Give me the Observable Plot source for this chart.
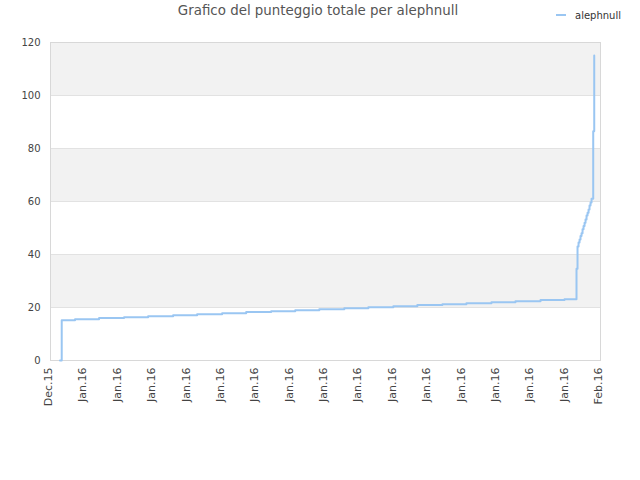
<!DOCTYPE html>
<html><head><meta charset="utf-8">
<script src="https://cdn.jsdelivr.net/npm/d3@7"></script>
<script src="https://cdn.jsdelivr.net/npm/@observablehq/plot@0.6"></script>
<style>
body{margin:0;background:#fff;font-family:"DejaVu Sans",sans-serif;}
#wrap{width:640px;}
#head{position:relative;height:30px;}
#title{position:absolute;left:0;width:636px;top:3px;text-align:center;font-size:13.4px;color:#555;white-space:nowrap;}
#legend{position:absolute;left:556px;top:10px;font-size:10px;color:#333;white-space:nowrap;}
#sw{display:inline-block;width:10px;height:2px;background:#9ac6f2;vertical-align:middle;margin-right:9px;position:relative;top:-1px;}
</style></head>
<body>
<div id="wrap">
 <div id="head">
  <div id="title">Grafico del punteggio totale per alephnull</div>
  <div id="legend"><span id="sw"></span>alephnull</div>
 </div>
 <div id="chart"></div>
</div>
<script>
const times = [
 "2015-12-31T13:15Z","2015-12-31T15:40Z","2016-01-01T10:15Z","2016-01-02T19:50Z",
 "2016-01-04T06:45Z","2016-01-05T16:20Z","2016-01-07T03:15Z","2016-01-08T12:45Z",
 "2016-01-09T23:40Z","2016-01-11T09:15Z","2016-01-12T20:10Z","2016-01-14T05:45Z",
 "2016-01-15T15:20Z","2016-01-17T02:15Z","2016-01-18T11:50Z","2016-01-19T22:45Z",
 "2016-01-21T08:15Z","2016-01-22T19:15Z","2016-01-24T04:45Z","2016-01-25T15:45Z",
 "2016-01-27T01:15Z","2016-01-28T12:15Z","2016-01-29T21:45Z","2016-01-30T14:30Z",
 "2016-01-30T15:55Z","2016-01-30T17:20Z","2016-01-30T18:45Z","2016-01-30T20:05Z",
 "2016-01-30T21:30Z","2016-01-30T22:55Z","2016-01-31T00:20Z","2016-01-31T01:45Z",
 "2016-01-31T03:05Z","2016-01-31T04:30Z","2016-01-31T05:55Z","2016-01-31T07:20Z",
 "2016-01-31T08:40Z","2016-01-31T10:05Z","2016-01-31T11:30Z","2016-01-31T13:50Z",
 "2016-01-31T15:15Z"
];
const scores = [
 0, 15.2, 15.6, 16.0,
 16.35, 16.7, 17.1, 17.5,
 17.85, 18.3, 18.6, 19.0,
 19.35, 19.75, 20.1, 20.5,
 20.9, 21.25, 21.65, 22.0,
 22.4, 22.8, 23.15, 34.6,
 43.0, 44.5, 45.7, 47.0,
 48.0, 49.5, 50.8, 52.0,
 53.2, 54.7, 55.8, 57.0,
 58.5, 59.6, 61.0, 86.5,
 115.1
];
const xTicks = [
 "2015-12-31","2016-01-02","2016-01-04","2016-01-06","2016-01-08","2016-01-10",
 "2016-01-12","2016-01-14","2016-01-16","2016-01-18","2016-01-20","2016-01-22",
 "2016-01-24","2016-01-26","2016-01-28","2016-01-30","2016-02-01"
];
const yTicks = [0, 20, 40, 60, 80, 100, 120];
const bandStart = [20, 60, 100];
const bandEnd = [40, 80, 120];

const data = times.map((t, i) => ({date: new Date(t), score: scores[i]}));
const bands = bandStart.map((s, i) => ({y1: s, y2: bandEnd[i]}));
const tickDates = xTicks.map(d => new Date(d));

const chart = Plot.plot({
 width: 640, height: 450,
 marginTop: 12, marginBottom: 120, marginLeft: 50, marginRight: 40,
 style: {fontFamily: "'DejaVu Sans', sans-serif", color: "#444", background: "#fff"},
 x: {type: "utc", domain: [tickDates[0], tickDates[tickDates.length - 1]]},
 y: {domain: [0, 120]},
 marks: [
  Plot.rect(bands, {y1: "y1", y2: "y2", fill: "#f2f2f2"}),
  Plot.ruleY(yTicks.slice(1), {stroke: "#e2e2e2"}),
  Plot.frame({stroke: "#d8d8d8"}),
  Plot.axisY({ticks: yTicks, tickSize: 0, tickPadding: 10, fontSize: 10, label: null}),
  Plot.axisX({ticks: tickDates, tickFormat: d3.utcFormat("%b.%y"), tickRotate: -90,
   tickSize: 0, tickPadding: 7, fontSize: 11, label: null, dx: -2}),
  Plot.line(data, {x: "date", y: "score", curve: "step-after", stroke: "#9ac6f2", strokeWidth: 2})
 ]
});
document.getElementById("chart").appendChild(chart);
</script>
</body></html>
